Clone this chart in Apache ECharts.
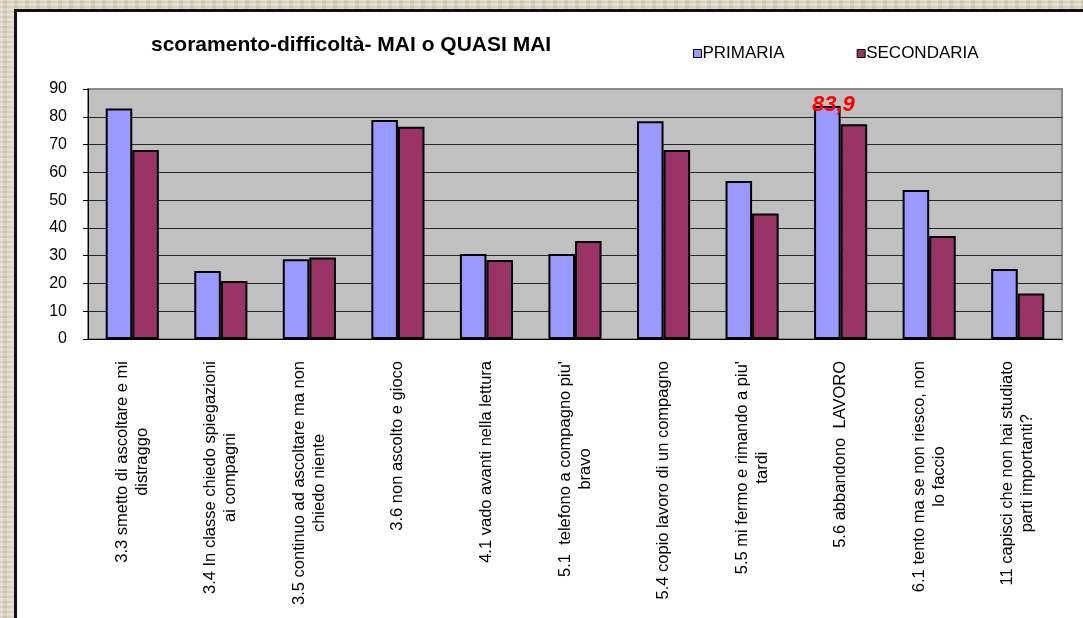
<!DOCTYPE html>
<html>
<head>
<meta charset="utf-8">
<script src="https://cdn.jsdelivr.net/npm/echarts@6/dist/echarts.min.js"></script>
<style>
  html, body {
    margin: 0;
    width: 1083px;
    height: 618px;
    overflow: hidden;
    background-color: #ddd5c1;
    background-image:
      repeating-linear-gradient(90deg, rgba(255,255,255,.18) 0 3px, rgba(0,0,0,.04) 3px 7px, rgba(255,255,255,.1) 7px 11px),
      repeating-linear-gradient(0deg, rgba(0,0,0,.05) 0 2px, rgba(255,255,255,.12) 2px 5px);
  }
  .frame {
    position: absolute;
    left: 14px;
    top: 9px;
    width: 1100px;
    height: 640px;
    background: #fff;
    border-left: 3px solid #111;
    border-top: 3px solid #111;
  }
  .chart {
    position: absolute;
    left: 0;
    top: 0;
    width: 1083px;
    height: 618px;
  }
</style>
</head>
<body>
<div class="frame"></div>
<div class="chart" id="chart"></div>
<script>
const categories = [
  '3.3 smetto di ascoltare e mi\ndistraggo',
  '3.4 In classe chiedo spiegazioni\nai compagni',
  '3.5 continuo ad ascoltare ma non\nchiedo niente',
  '3.6 non ascolto e gioco',
  '4.1 vado avanti nella lettura',
  "5.1  telefono a compagno piu'\nbravo",
  '5.4 copio lavoro di un compagno',
  "5.5 mi fermo e rimando a piu'\ntardi",
  '5.6 abbandono  LAVORO',
  '6.1 tento ma se non riesco, non\nlo faccio',
  '11 capisci che non hai studiato\nparti importanti?'
];
const primaria = [83.0, 24.5, 28.7, 78.8, 30.6, 30.6, 78.4, 56.9, 83.9, 53.6, 25.2];
const secondaria = [68.0, 20.9, 29.3, 76.4, 28.4, 35.3, 68.0, 45.2, 77.3, 37.1, 16.4];
const labelledIndex = 8;

const fontFamily = '"Liberation Sans", Arial, sans-serif';

const primariaData = primaria.map((v, i) => i === labelledIndex ? {
  value: v,
  label: {
    show: true,
    position: 'top',
    distance: -10,
    offset: [6, 0],
    formatter: p => String(p.value).replace('.', ','),
    color: '#ff0000',
    fontSize: 22,
    fontWeight: 'bold',
    fontStyle: 'italic',
    fontFamily
  }
} : v);

const chart = echarts.init(document.getElementById('chart'));

chart.setOption({
  animation: false,
  textStyle: { fontFamily },
  title: {
    text: 'scoramento-difficoltà- MAI o QUASI MAI',
    left: 146,
    top: 30,
    textStyle: { fontSize: 21, fontWeight: 'bold', color: '#000', fontFamily }
  },
  legend: {
    left: 688,
    top: 40,
    icon: 'rect',
    itemWidth: 8,
    itemHeight: 8,
    itemGap: 72,
    itemStyle: { borderWidth: 1, borderColor: '#000' },
    textStyle: { fontSize: 17, color: '#000', padding: [0, 0, 0, -4] },
    data: ['PRIMARIA', 'SECONDARIA']
  },
  grid: {
    left: 88,
    top: 89,
    width: 974,
    height: 250,
    show: true,
    backgroundColor: '#c0c0c0',
    borderColor: '#8a8a8a',
    borderWidth: 2
  },
  xAxis: {
    type: 'category',
    data: categories,
    axisLine: { lineStyle: { color: '#000', width: 1 } },
    axisTick: { length: 5, lineStyle: { color: '#000' } },
    axisLabel: {
      interval: 0,
      rotate: 90,
      margin: 22,
      color: '#000',
      fontSize: 16.5,
      lineHeight: 20,
      formatter: v => v.split('\n').map(s => '{c|' + s + '}').join('\n'),
      rich: {
        c: { align: 'center', fontSize: 16.5, lineHeight: 20, color: '#000', fontFamily }
      }
    }
  },
  yAxis: {
    type: 'value',
    min: 0,
    max: 90,
    interval: 10,
    axisLine: { show: true, lineStyle: { color: '#000' } },
    axisTick: { show: true, length: 5, lineStyle: { color: '#000' } },
    axisLabel: { color: '#000', fontSize: 16, margin: 21 },
    splitLine: { showMaxLine: false, lineStyle: { color: '#262626', width: 1 } }
  },
  series: [
    {
      name: 'PRIMARIA',
      type: 'bar',
      data: primariaData,
      barGap: '0%',
      barCategoryGap: '40%',
      itemStyle: { color: '#9999ff', borderColor: '#000', borderWidth: 2 }
    },
    {
      name: 'SECONDARIA',
      type: 'bar',
      data: secondaria,
      barGap: '0%',
      barCategoryGap: '40%',
      itemStyle: { color: '#993366', borderColor: '#000', borderWidth: 2 }
    }
  ]
});
</script>
</body>
</html>
